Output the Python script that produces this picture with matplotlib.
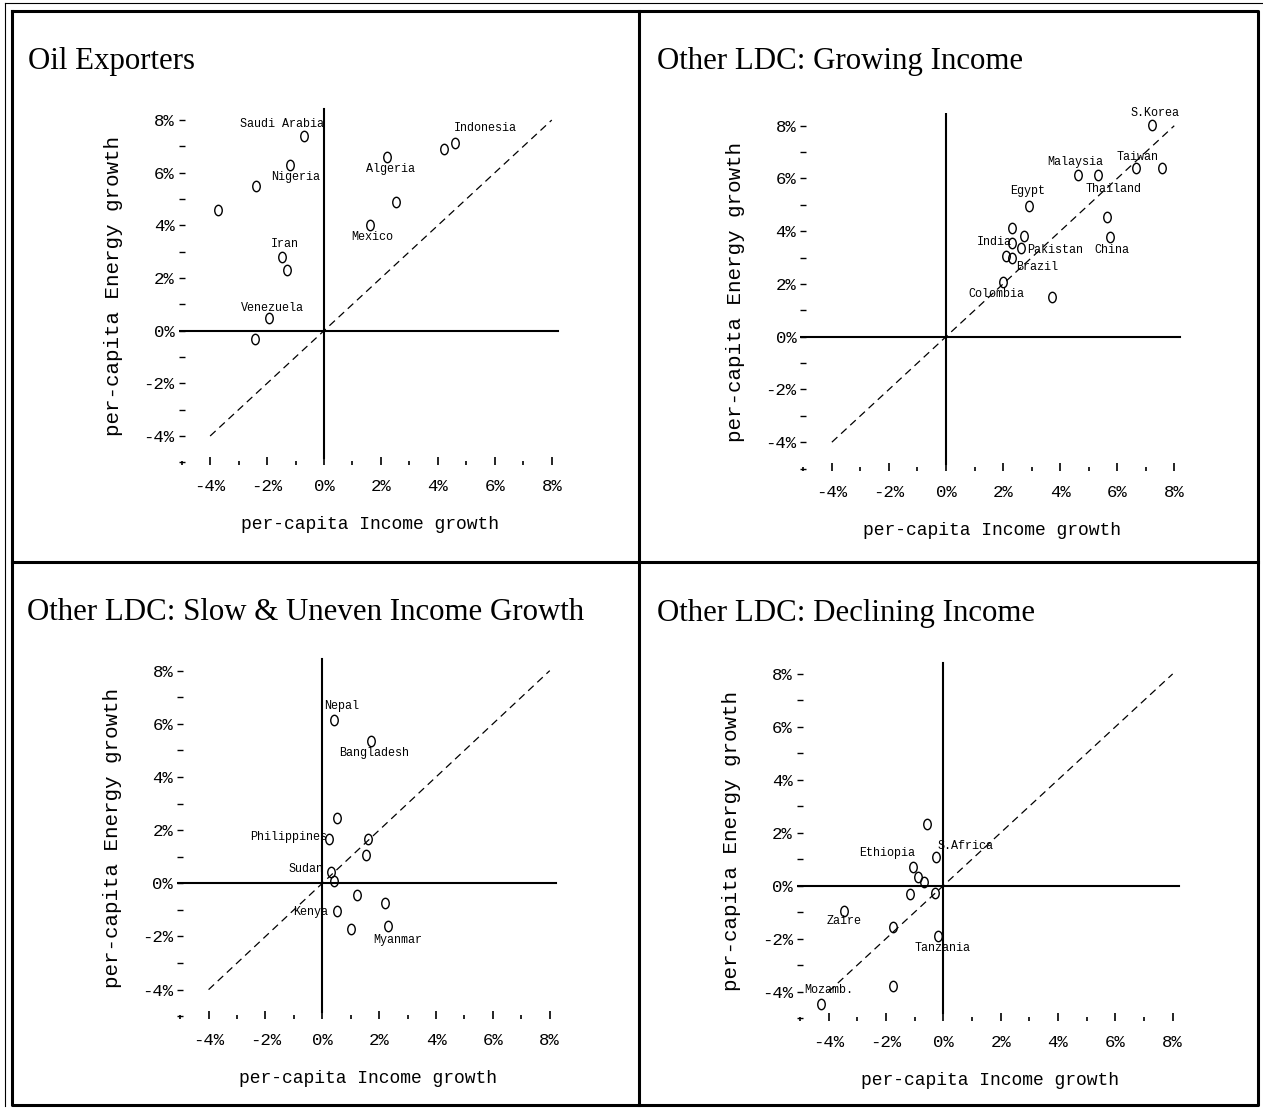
import matplotlib
matplotlib.use("Agg")
import matplotlib.pyplot as plt
from matplotlib.lines import Line2D
from matplotlib.path import Path
from matplotlib.transforms import Affine2D
from matplotlib.ticker import FixedLocator, FuncFormatter

W, H = 1263, 1109

# ---- data (growth rates, % per year) ----
oil_income = [-0.69, -1.19, -2.40, -3.71, -1.49, -1.31, -1.92, -2.42, 2.22, 2.53, 1.62, 4.22, 4.61]
oil_energy = [7.40, 6.29, 5.49, 4.58, 2.81, 2.30, 0.47, -0.33, 6.61, 4.90, 4.01, 6.89, 7.11]
oil_names = ["Saudi Arabia", "Nigeria", "Iran", "Venezuela", "Algeria", "Mexico", "Indonesia"]

grow_income = [7.22, 6.66, 7.56, 4.61, 5.34, 2.92, 5.65, 2.32, 2.73, 5.75, 2.30, 2.62, 2.10, 2.32, 2.01, 3.73]
grow_energy = [8.03, 6.41, 6.41, 6.13, 6.13, 4.96, 4.55, 4.11, 3.83, 3.77, 3.57, 3.35, 3.07, 2.97, 2.09, 1.52]
grow_names = ["S.Korea", "Taiwan", "Malaysia", "Thailand", "Egypt", "India", "Pakistan", "China", "Brazil", "Colombia"]

slow_income = [0.41, 1.70, 0.53, 0.23, 1.62, 1.52, 0.30, 0.41, 1.21, 2.22, 0.50, 1.00, 2.30]
slow_energy = [6.14, 5.37, 2.47, 1.67, 1.67, 1.07, 0.41, 0.10, -0.44, -0.75, -1.03, -1.72, -1.61]
slow_names = ["Nepal", "Bangladesh", "Philippines", "Sudan", "Kenya", "Myanmar"]

decl_income = [-0.58, -0.27, -1.07, -0.87, -0.66, -1.16, -0.29, -3.45, -1.77, -0.17, -1.77, -4.28]
decl_energy = [2.32, 1.10, 0.72, 0.31, 0.13, -0.31, -0.29, -0.94, -1.57, -1.89, -3.79, -4.48]
decl_names = ["Ethiopia", "S.Africa", "Zaire", "Tanzania", "Mozamb."]

titles = ["Oil Exporters", "Other LDC: Growing Income",
          "Other LDC: Slow & Uneven Income Growth", "Other LDC: Declining Income"]
tick_major = [-4, -2, 0, 2, 4, 6, 8]
tick_minor = [-5, -3, -1, 1, 3, 5, 7]
diag = [-4, 8]

# where each country name sits (data coords of the label centre)
oil_pos = [(-1.49, 7.85), (-0.98, 5.83), (-1.36, 3.28), (-1.81, 0.87), (2.33, 6.16), (1.69, 3.57), (5.66, 7.68)]
grow_pos = [(7.31, 8.50), (6.71, 6.83), (4.52, 6.64), (5.86, 5.60), (2.85, 5.52), (1.68, 3.60),
            (3.83, 3.29), (5.83, 3.29), (3.18, 2.65), (1.78, 1.62)]
slow_pos = [(0.69, 6.68), (1.83, 4.89), (-1.18, 1.73), (-0.59, 0.54), (-0.40, -1.07), (2.67, -2.13)]
decl_pos = [(-1.95, 1.22), (0.77, 1.51), (-3.47, -1.32), (-0.03, -2.37), (-3.98, -3.94)]

panels = [
    (oil_income, oil_energy, oil_names, oil_pos),
    (grow_income, grow_energy, grow_names, grow_pos),
    (slow_income, slow_energy, slow_names, slow_pos),
    (decl_income, decl_energy, decl_names, decl_pos),
]

# pixel origin of (0%,0%) and pixels per 1% for each panel
frames = [(324.0, 330.7, 28.47, 26.33), (946.0, 336.7, 28.53, 26.37),
          (322.3, 883.3, 28.43, 26.58), (943.3, 885.7, 28.67, 26.47)]
title_xy = [(28, 62), (657, 62), (27, 612), (657, 614)]

XL = (-5.1, 8.35)
YL = (-5.1, 8.5)
MONO = "Liberation Mono"

oval = Path.unit_circle().transformed(Affine2D().scale(0.72, 1.0))

fig = plt.figure(figsize=(W / 100, H / 100), dpi=100)

pct = FuncFormatter(lambda v, p: ("-%d%%" % abs(v)) if v < 0 else "%d%%" % v)

for (inc, en, names, pos), (x0, y0, sx, sy), title, (tx, ty) in zip(panels, frames, titles, title_xy):
    l = x0 + XL[0] * sx
    r = x0 + XL[1] * sx
    t = y0 - YL[1] * sy
    b = y0 - YL[0] * sy
    ax = fig.add_axes([l / W, 1 - b / H, (r - l) / W, (b - t) / H])
    ax.set_xlim(*XL)
    ax.set_ylim(*YL)
    for s in ax.spines.values():
        s.set_visible(False)

    ax.axhline(0, xmin=0, xmax=0.99, color="black", lw=1.5)
    ax.axvline(0, ymin=0.02, ymax=0.995, color="black", lw=1.5)
    ax.plot(diag, diag, color="black", lw=0.9, ls=(0, (6, 4)))

    ax.plot(inc, en, ls="none", marker=oval, ms=7.5, mfc="none", mec="black", mew=1.0)
    for name, (lx, ly) in zip(names, pos):
        ax.text(lx, ly, name, ha="center", va="center", fontsize=8.5,
                family=MONO, color="black")

    ax.xaxis.set_major_locator(FixedLocator(tick_major))
    ax.xaxis.set_minor_locator(FixedLocator(tick_minor))
    ax.yaxis.set_major_locator(FixedLocator(tick_major))
    ax.yaxis.set_minor_locator(FixedLocator(tick_minor))
    ax.xaxis.set_major_formatter(pct)
    ax.yaxis.set_major_formatter(pct)
    ax.tick_params(axis="x", which="major", direction="in", length=6, width=1.2, pad=10, labelsize=12.5)
    ax.tick_params(axis="x", which="minor", direction="in", length=3, width=1.2)
    ax.tick_params(axis="y", which="both", direction="in", length=4, width=1.0, pad=3, labelsize=12.5)
    for lab in ax.get_xticklabels() + ax.get_yticklabels():
        lab.set_family(MONO)

    ax.set_xlabel("per-capita Income growth", family=MONO, fontsize=13)
    ax.set_ylabel("per-capita Energy growth", family=MONO, fontsize=15)
    ax.xaxis.set_label_coords(0.5, -0.165)
    ax.xaxis.label.set_verticalalignment("center")
    ax.yaxis.set_label_coords(-0.17, 0.5)
    ax.yaxis.label.set_verticalalignment("center")

    fig.text(tx / W, 1 - ty / H, title, ha="left", va="center",
             family="Liberation Serif", fontsize=22.2)


def fline(xs, ys, lw):
    fig.add_artist(Line2D([x / W for x in xs], [1 - y / H for y in ys],
                          color="black", lw=lw, transform=fig.transFigure))


# outer frame and panel dividers
fline([12, 1258, 1258, 12, 12], [11, 11, 1105, 1105, 11], 2.2)
fline([5, 1262], [3, 3], 0.8)
fline([5, 5], [3, 1106], 0.8)
fline([639, 639], [11, 1105], 2.2)
fline([12, 1258], [562, 562], 2.2)

fig.savefig("out.png", dpi=100, facecolor="white")
